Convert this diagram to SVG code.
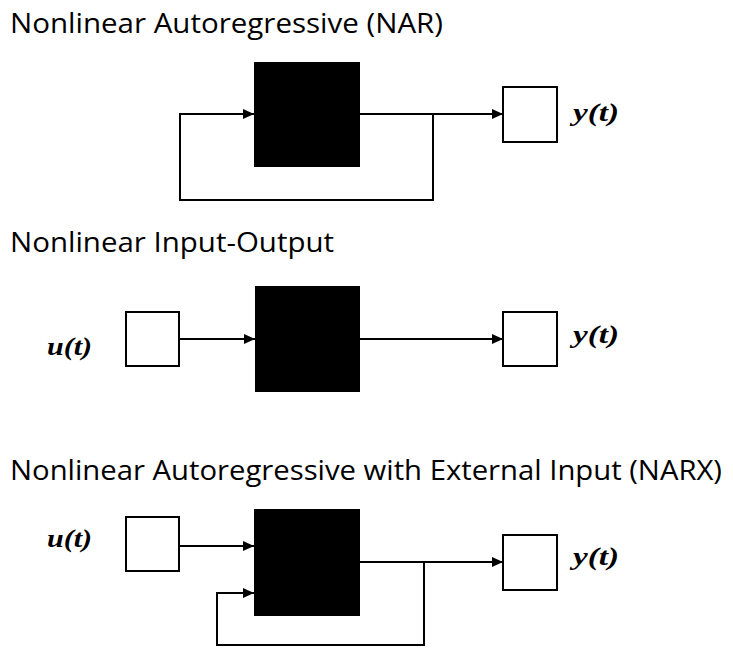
<svg xmlns="http://www.w3.org/2000/svg" width="733" height="648" viewBox="0 0 733 648">
<style>
.title{font-family:"Open Sans","Liberation Sans",sans-serif;font-size:26.5px;fill:#000}
.lbl{font-family:"Liberation Serif",serif;font-size:26px;font-weight:bold;font-style:italic;fill:#000}
.blk{fill:#000;stroke:none}
.box{fill:#fff;stroke:#000;stroke-width:2}
.wire{fill:none;stroke:#000;stroke-width:2}
</style>
<defs>
<marker id="arr" markerWidth="11" markerHeight="10" refX="11" refY="5" orient="auto" markerUnits="userSpaceOnUse">
<path d="M0,0 L11,5 L0,10 Z" fill="#000"/>
</marker>
</defs>
<text class="title" x="10" y="33" textLength="433" lengthAdjust="spacingAndGlyphs">Nonlinear Autoregressive (NAR)</text>
<text class="title" x="10" y="252" textLength="324" lengthAdjust="spacingAndGlyphs">Nonlinear Input-Output</text>
<text class="title" x="10" y="480" textLength="712" lengthAdjust="spacingAndGlyphs">Nonlinear Autoregressive with External Input (NARX)</text>

<g id="nar-net"><rect class="blk" x="254" y="62" width="106" height="105"/></g>
<g id="nar-y"><rect class="box" x="503" y="87" width="54" height="55"/><text class="lbl" x="573" y="121" textLength="46" lengthAdjust="spacingAndGlyphs">y(t)</text></g>

<g id="io-u"><rect class="box" x="126" y="312" width="53" height="54"/><text class="lbl" x="47" y="355" textLength="45" lengthAdjust="spacingAndGlyphs">u(t)</text></g>
<g id="io-net"><rect class="blk" x="255" y="286" width="105" height="106"/></g>
<g id="io-y"><rect class="box" x="503" y="312" width="54" height="54"/><text class="lbl" x="573" y="343" textLength="46" lengthAdjust="spacingAndGlyphs">y(t)</text></g>

<g id="narx-u"><rect class="box" x="126" y="517" width="53" height="54"/><text class="lbl" x="47" y="547" textLength="45" lengthAdjust="spacingAndGlyphs">u(t)</text></g>
<g id="narx-net"><rect class="blk" x="254" y="509" width="106" height="107"/></g>
<g id="narx-y"><rect class="box" x="503" y="535" width="54" height="55"/><text class="lbl" x="573" y="565" textLength="46" lengthAdjust="spacingAndGlyphs">y(t)</text></g>

<g id="connectors">
<line class="wire" x1="360" y1="114" x2="503" y2="114" marker-end="url(#arr)"/>
<polyline class="wire" points="433,114 433,200 180,200 180,114 254,114" marker-end="url(#arr)"/>
<line class="wire" x1="179" y1="339" x2="255" y2="339" marker-end="url(#arr)"/>
<line class="wire" x1="360" y1="339" x2="503" y2="339" marker-end="url(#arr)"/>
<line class="wire" x1="179" y1="546" x2="254" y2="546" marker-end="url(#arr)"/>
<line class="wire" x1="360" y1="562" x2="503" y2="562" marker-end="url(#arr)"/>
<polyline class="wire" points="424,562 424,645 217,645 217,593 254,593" marker-end="url(#arr)"/>
</g>
</svg>
